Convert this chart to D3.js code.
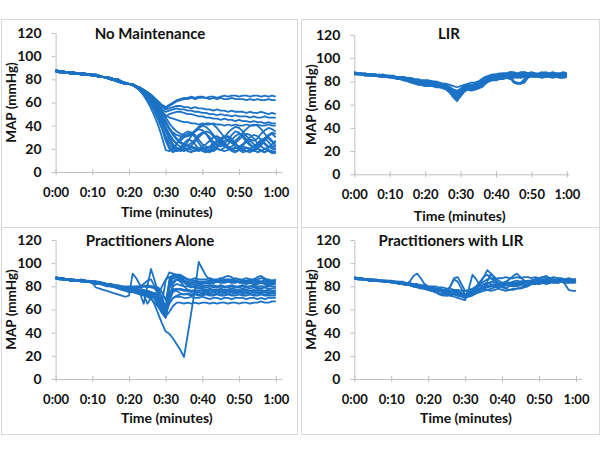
<!DOCTYPE html>
<html><head><meta charset="utf-8">
<script src="https://cdn.jsdelivr.net/npm/d3@7"></script>
<style>body{margin:0;background:#fff}</style>
</head><body>
<script>
// ---------- DATA ----------
const minutes = [0,1,2,3,4,5,6,7,8,9,10,11,12,13,14,15,16,17,18,19,20,21,22,23,24,25,26,27,28,29,30,
  31,32,33,34,35,36,37,38,39,40,41,42,43,44,45,46,47,48,49,50,51,52,53,54,55,56,57,58,59,60];
const yTicks = [0,20,40,60,80,100,120];
const xTicks = [0,10,20,30,40,50,60];
const xTickLabels = ["0:00","0:10","0:20","0:30","0:40","0:50","1:00"];
const panelTitles = ["No Maintenance","LIR","Practitioners Alone","Practitioners with LIR"];
const yTitle = "MAP (mmHg)";
const xTitle = "Time (minutes)";

const noMaintenance = [
 [87,87,86,86,86,85,85,85,85,84,84,83,83,82,82,81,80,79,78,77,76, 75,74,73,71,69,67,64,61,58,56, 58,60,62,63,64,64,65,64,65,65, 64,65,65,64,65,66,65,66,66,65, 66,66,65,66,66,65,66,65,66,65],
 [88,87,87,86,86,86,85,85,85,84,84,84,83,82,82,81,80,80,78,77,76, 75,74,72,71,69,66,63,60,57,55, 57,59,61,62,63,63,64,63,64,64, 64,63,64,63,64,63,63,64,63,63, 63,62,63,62,63,62,62,63,62,62],
 [87,86,86,86,85,85,85,84,84,84,83,83,82,82,81,80,79,78,77,76,76, 75,74,72,70,68,65,62,59,56,54, 55,56,57,57,56,56,55,56,55,55, 54,54,53,54,53,53,52,53,52,52, 52,51,52,51,51,52,51,50,51,50],
 [87,87,86,86,86,85,85,85,85,84,84,83,83,82,82,81,80,79,78,77,76, 75,73,72,70,67,64,61,57,54,52, 53,54,55,54,54,53,53,52,52,51, 51,50,50,49,50,49,49,48,49,48, 48,48,47,48,47,47,48,47,47,47],
 [88,87,87,86,86,86,85,85,85,84,84,84,83,82,82,81,80,80,78,77,76, 75,73,71,69,66,63,59,55,51,48, 50,51,52,52,51,50,50,49,48,48, 47,47,46,46,45,46,45,45,44,45, 44,44,43,44,43,43,42,43,42,42],
 [87,86,86,86,85,85,85,84,84,84,83,83,82,82,81,80,79,78,77,76,76, 75,74,72,70,67,64,60,56,52,49, 47,46,45,44,43,43,42,42,41,42, 41,41,42,41,41,40,41,40,41,40, 40,41,40,40,41,40,40,41,40,40],
 [87,87,86,86,86,85,85,85,85,84,84,83,83,82,82,81,80,79,78,77,76, 75,73,70,66,61,55,48,40,30,19, 18,20,24,29,33,35,34,30,25,21, 19,18,20,23,27,30,31,29,25,21, 19,18,17,19,22,26,29,30,27,22],
 [88,87,87,86,86,86,85,85,85,84,84,84,83,82,82,81,80,80,78,77,76, 75,73,71,68,64,59,53,46,38,29, 22,19,18,19,18,20,19,18,20,19, 21,19,18,20,19,18,19,20,18,19, 20,18,19,18,20,19,17,19,18,17],
 [87,86,86,86,85,85,85,84,84,84,83,83,82,82,81,80,79,78,77,76,76, 75,74,72,69,65,61,56,50,43,36, 29,24,21,20,22,26,31,35,37,36, 33,28,23,20,19,21,24,28,31,33, 32,28,24,21,20,23,27,31,33,30],
 [87,87,86,86,86,85,85,85,85,84,84,83,83,82,82,81,80,79,78,77,76, 76,74,72,70,67,63,58,52,46,39, 33,28,24,22,21,20,22,21,20,22, 24,27,30,31,29,25,22,20,21,20, 22,21,20,22,25,28,29,26,22,20],
 [88,87,87,86,86,86,85,85,85,84,84,84,83,82,82,81,80,80,78,77,76, 75,73,71,69,66,62,57,51,44,37, 31,27,25,27,30,33,34,32,28,24, 22,21,23,26,29,31,30,27,24,22, 24,27,30,32,31,28,24,21,22,23],
 [87,86,86,86,85,85,85,84,84,84,83,83,82,82,81,80,79,78,77,76,76, 76,74,73,71,68,65,61,56,50,44, 38,33,29,26,24,23,25,28,32,34, 33,30,26,23,22,24,28,32,35,34, 30,26,23,21,22,25,29,32,34,33],
 [87,87,86,86,86,85,85,85,85,84,84,83,83,82,82,81,80,79,78,77,76, 75,74,72,70,68,65,62,58,53,47, 42,38,35,33,32,31,32,35,38,40, 39,36,32,29,28,30,34,37,39,38, 35,31,28,27,29,33,36,38,37,35],
 [88,87,87,86,86,86,85,85,85,84,84,84,83,82,82,81,80,80,78,77,76, 76,74,72,69,65,60,54,47,39,31, 25,21,19,21,25,28,27,24,20,18, 17,19,22,26,27,25,21,18,17,19, 23,26,27,24,20,18,17,19,16,18],
 [87,86,86,86,85,85,85,84,84,84,83,83,82,82,81,80,79,78,77,76,76, 76,74,72,70,67,63,59,54,48,42, 37,34,32,31,30,31,33,36,39,41, 42,42,41,38,34,30,27,25,27,30, 34,37,40,41,40,37,33,29,26,25],
 [87,87,86,86,86,85,85,85,85,84,84,83,83,82,82,81,80,79,78,77,76, 75,73,71,68,65,61,56,50,43,35, 28,23,20,19,20,19,21,20,19,21, 20,22,25,27,26,23,20,19,21,20, 19,21,20,22,24,26,25,22,20,19],
 [88,87,87,86,86,86,85,85,85,84,84,84,83,82,82,81,80,80,78,77,76, 76,74,72,70,67,64,60,55,49,43, 37,32,28,25,23,22,23,26,30,33, 35,34,31,27,24,22,21,22,25,28, 31,33,32,29,25,22,20,21,24,27],
 [87,86,86,86,85,85,85,84,84,84,83,83,82,82,81,80,79,78,77,76,76, 75,73,70,67,63,58,52,45,37,27, 20,17,19,18,20,18,17,19,18,20, 18,17,19,21,24,27,28,26,22,19, 17,18,20,19,17,18,20,18,17,16]
];

const lir = [
 [87,87,86,87,86,86,85,86,85,85,85,84,84,84,83,83,82,81,80,80,79, 79,78,78,77,76,74,72,68,64,67, 71,73,74,75,76,78,81,83,84,84, 85,85,86,86,87,86,86,87,86,87, 86,86,87,86,86,87,86,86,87,86],
 [88,87,87,86,86,85,86,85,85,84,84,84,83,83,82,81,81,80,79,78,78, 78,77,77,76,75,73,70,66,63,68, 72,74,75,74,76,79,82,84,85,85, 86,86,85,87,86,85,84,85,86,86, 85,86,85,86,85,86,85,85,86,85],
 [87,86,86,86,85,86,85,85,84,85,84,83,83,82,82,81,80,79,78,77,77, 76,76,75,75,74,73,71,69,67,70, 73,74,73,74,75,77,80,82,83,83, 84,84,85,84,80,79,78,79,83,85, 84,85,84,85,84,85,84,85,84,84],
 [87,87,87,86,86,86,86,85,85,85,84,84,84,83,83,82,82,81,81,80,80, 80,79,79,78,77,76,75,72,70,73, 75,76,76,77,78,80,83,84,85,86, 86,87,87,88,87,86,87,88,87,87, 87,86,87,88,87,86,87,87,86,87],
 [86,86,86,85,85,85,85,84,84,84,83,83,82,82,81,81,80,79,78,77,76, 76,76,76,75,75,74,73,72,71,72, 73,73,72,73,74,75,78,80,81,81, 82,82,83,82,83,84,83,84,84,85, 85,84,85,84,85,85,84,85,84,85],
 [87,87,86,86,86,85,85,85,85,84,84,84,83,83,82,82,81,80,80,79,79, 78,78,77,77,76,75,73,70,66,69, 73,75,76,77,78,80,82,83,82,82, 83,84,84,83,79,78,79,82,84,85, 85,86,85,86,86,85,86,85,86,85],
 [88,87,87,87,86,86,86,85,86,85,85,85,84,84,84,83,83,82,82,81,81, 81,80,80,79,78,78,77,76,75,76, 77,78,79,79,80,82,84,85,86,86, 87,87,87,88,88,87,88,88,87,88, 87,87,88,87,87,88,87,87,88,87],
 [87,86,86,86,85,85,85,85,84,84,84,83,83,82,81,80,79,78,77,77,76, 77,77,76,76,75,74,72,70,69,71, 72,73,73,73,74,76,79,81,82,83, 83,83,84,84,84,83,84,85,85,84, 84,84,83,84,84,83,84,83,83,84],
 [87,87,86,86,86,86,85,85,85,84,84,84,83,83,82,82,81,81,80,80,79, 79,79,78,78,77,76,74,71,69,72, 74,75,75,76,77,79,82,83,84,85, 85,86,86,85,86,86,85,86,87,86, 86,86,85,86,86,87,86,86,85,86],
 [87,86,87,86,86,85,85,85,84,85,84,84,83,83,82,81,81,80,79,79,78, 78,78,77,76,76,75,74,73,72,73, 74,75,75,75,76,78,80,82,83,83, 84,84,84,85,85,84,85,85,86,85, 85,85,86,85,85,86,85,85,84,85],
 [86,86,86,85,85,85,85,85,84,84,84,83,83,82,82,82,81,80,80,79,79, 80,80,79,79,78,77,75,73,71,74, 76,77,77,78,79,81,83,84,85,85, 85,86,86,85,80,78,78,80,84,86, 86,86,85,86,86,86,85,86,86,85]
];

const practitionersAlone = [
 [87,87,86,86,85,85,85,85,84,84,83, 79,78,77,76,75,74,73,72,71,72, 91,87,81,73,65,70,74,68,60,56, 68,75,77,78,77,77,76,77,76,77, 76,77,76,76,77,76,77,76,76,77, 76,77,76,76,77,76,76,77,76,76],
 [88,87,87,86,86,85,85,86,85,84,84, 84,83,82,82,81,80,80,79,78,77, 76,75,74,65,80,95,85,74,61,55, 72,80,82,81,80,80,79,80,79,80, 79,80,80,79,80,79,80,80,79,80, 80,79,80,80,79,80,79,80,80,79],
 [87,87,86,86,86,85,85,85,84,84,84, 83,83,82,81,81,80,79,78,77,76, 76,75,74,73,72,71,70,68,66,85, 92,91,90,90,88,86,85,85,84,84, 84,85,84,84,85,84,84,85,84,84, 85,84,84,85,84,84,85,84,85,84],
 [87,87,86,86,85,85,85,84,84,84,83, 83,82,82,81,80,80,79,78,77,76, 76,75,75,74,73,70,64,56,48,41, 39,35,30,25,19,38,58,78,101,95, 89,86,85,85,84,85,86,85,85,86, 85,85,86,85,85,84,85,85,84,85],
 [87,86,86,86,85,85,85,85,84,84,84, 83,83,82,82,81,80,80,79,78,77, 77,76,76,75,74,72,69,64,58,54, 58,63,66,66,65,66,65,66,65,66, 66,65,66,65,66,66,65,66,66,65, 66,66,65,66,66,67,66,66,67,67],
 [88,87,86,86,86,85,85,85,85,84,84, 83,83,82,81,81,80,79,78,78,77, 76,76,75,74,73,72,70,66,60,55, 66,70,71,71,70,70,71,70,70,71, 70,69,70,70,69,70,70,69,70,70, 70,69,70,70,69,70,69,70,70,70],
 [87,87,86,86,86,85,85,85,84,84,84, 84,83,82,82,81,80,80,79,78,77, 77,76,75,75,74,73,71,67,61,54, 74,78,76,74,73,73,72,73,72,72, 73,72,72,73,72,72,73,72,72,73, 72,72,73,72,72,73,72,72,72,72],
 [87,87,87,86,86,85,85,85,85,84,84, 83,83,82,82,81,81,80,79,78,78, 77,77,76,75,74,72,69,64,57,53, 70,82,86,84,80,77,76,75,75,74, 75,74,75,74,75,75,74,75,74,75, 74,75,74,75,74,74,75,74,74,74],
 [87,86,86,86,85,85,85,84,84,84,83, 83,82,82,81,80,80,79,78,78,77, 77,76,76,75,74,73,71,68,63,57, 80,88,89,88,85,82,80,79,78,78, 77,78,77,77,78,77,77,78,77,76, 77,77,76,77,76,77,76,77,76,76],
 [87,87,86,86,86,86,85,85,85,84,84, 84,83,83,82,81,81,80,79,78,78, 78,77,77,76,76,75,74,72,68,60, 78,84,86,85,83,81,80,80,79,79, 79,80,79,79,80,79,79,78,79,79, 78,79,78,79,78,78,79,78,78,78],
 [88,87,87,86,86,85,85,85,85,84,84, 84,83,83,82,82,81,80,80,79,79, 79,80,80,80,80,79,79,78,70,62, 86,90,89,87,85,83,82,81,81,80, 81,80,81,80,81,80,80,81,80,80, 81,80,80,81,80,80,80,81,80,80],
 [87,87,86,86,86,85,85,85,85,84,84, 83,83,82,82,81,81,80,79,79,78, 78,78,79,80,81,80,78,74,66,58, 82,89,88,86,85,84,83,83,82,82, 83,82,83,84,86,88,89,88,85,83, 83,82,83,82,82,83,82,82,82,82],
 [87,86,86,86,85,85,85,85,84,84,84, 83,83,82,81,81,80,80,79,78,78, 77,77,76,76,75,74,73,70,64,56, 84,90,90,89,87,86,85,85,84,84, 84,85,84,85,84,85,85,84,85,84, 85,84,85,86,88,89,87,85,84,84],
 [88,87,87,86,86,86,85,85,85,85,84, 84,84,83,82,82,81,80,80,79,79, 78,78,77,77,76,75,74,73,80,86, 88,89,88,87,87,86,86,87,86,86, 86,87,86,86,87,86,86,86,87,86, 86,87,86,86,86,87,86,86,85,86],
 [87,87,86,86,86,85,85,85,85,84,84, 84,83,83,82,82,81,81,80,80,80, 80,80,79,80,79,80,80,79,75,68, 82,87,86,85,84,84,83,84,83,83, 84,83,83,84,83,83,84,83,83,84, 83,83,84,83,83,84,83,83,83,83],
 [87,86,86,86,85,85,85,84,84,84,83, 82,82,81,80,80,79,78,77,76,75, 75,74,73,72,71,69,66,62,57,53, 72,77,78,77,76,76,75,76,75,75, 76,75,75,76,75,75,76,75,75,76, 75,75,76,75,75,75,76,75,75,75],
 [87,87,86,86,86,85,85,85,84,84,84, 84,83,82,82,81,80,80,79,78,78, 78,79,80,82,85,86,80,72,64,57, 65,70,72,73,73,74,73,74,73,73, 74,73,73,74,73,74,73,73,74,73, 73,74,73,73,74,73,73,73,74,73]
];

const practitionersWithLir = [
 [87,87,86,86,86,85,85,85,85,84,84, 84,83,83,82,84,89,91,87,82,80, 79,78,77,76,75,76,77,76,74,72, 74,76,78,80,82,83,82,81,82,83, 84,83,84,85,84,85,84,85,86,85, 84,85,86,85,84,85,84,85,84,85],
 [87,86,86,86,85,85,85,85,84,84,84, 83,83,82,82,81,81,80,79,79,78, 78,77,77,76,76,80,87,88,82,76, 75,76,77,78,79,80,80,81,80,81, 82,82,83,82,83,84,83,84,84,85, 85,84,85,84,85,84,85,85,84,85],
 [87,87,86,86,85,85,85,85,84,84,84, 83,83,82,81,81,80,79,78,78,77, 76,75,74,73,72,72,71,70,69,68, 78,90,86,81,79,80,81,80,81,82, 81,82,82,83,82,83,83,84,83,84, 84,83,84,84,83,84,83,84,84,83],
 [87,87,86,86,86,85,85,85,85,84,84, 84,83,83,82,82,81,80,80,79,79, 78,78,77,76,75,74,74,73,72,71, 72,74,77,82,88,94,91,86,83,82, 82,83,82,83,84,83,84,85,84,85, 85,86,85,85,86,85,85,86,85,85],
 [88,87,87,86,86,86,85,85,85,85,84, 84,84,83,83,82,82,81,80,80,79, 79,78,78,77,76,75,76,75,74,73, 73,74,76,78,80,84,91,88,85,83, 82,81,80,81,82,81,82,82,83,82, 83,84,83,84,83,84,84,83,84,84],
 [87,86,86,86,85,85,85,84,84,84,83, 83,82,82,81,81,80,80,79,78,78, 77,76,76,75,74,74,73,72,72,71, 72,73,74,75,76,77,78,79,80,82, 84,86,89,91,88,85,84,83,83,84, 83,84,84,83,84,84,83,84,83,84],
 [87,87,86,86,86,85,85,85,85,84,84, 84,83,83,82,82,81,81,80,80,79, 79,78,78,77,77,76,75,74,73,73, 74,75,76,77,78,79,80,80,81,81, 82,82,83,83,84,84,85,85,86,86, 86,85,86,85,85,86,82,77,76,76],
 [87,87,87,86,86,86,85,85,85,84,84, 83,83,82,82,81,80,80,79,78,78, 77,77,76,75,73,72,73,75,74,72, 73,74,76,77,79,80,81,80,79,80, 81,82,81,82,83,84,84,85,86,87, 88,89,87,86,85,86,85,86,85,86],
 [87,86,86,86,85,85,85,85,84,84,84, 83,83,82,82,81,80,80,79,78,77, 76,75,74,73,75,80,86,84,78,73, 75,77,80,84,88,90,87,84,82,80, 79,80,81,80,81,82,81,82,83,82, 83,82,83,84,83,84,83,84,83,84],
 [87,87,86,86,86,85,85,85,84,84,84, 83,83,82,82,81,80,80,79,78,77, 76,75,73,72,72,73,74,73,72,70, 72,74,76,77,78,77,76,77,78,77, 76,77,78,78,79,80,81,82,82,83, 83,84,84,83,84,84,84,83,84,84],
 [88,87,87,86,86,86,86,85,85,85,85, 84,84,84,83,83,82,82,81,81,80, 80,80,79,79,78,78,77,77,76,76, 77,78,80,82,84,86,87,86,87,87, 88,87,87,88,87,88,88,87,88,87, 88,87,87,88,87,87,86,87,86,86],
 [87,86,86,86,85,85,85,85,84,84,84, 83,83,82,82,81,81,80,79,79,78, 78,77,77,76,75,74,73,72,71,70, 71,72,74,76,79,82,84,83,81,79, 78,77,77,78,78,79,80,82,84,85, 86,86,85,86,86,85,86,85,86,86]
];

const panelData = [noMaintenance, lir, practitionersAlone, practitionersWithLir];

// ---------- LAYOUT ----------
const layout = [
  {x0:55.6, x1:282, xMax:61.7, yTop:33, yBot:172, titleX:150, titleY:34, yLabX:11, xLabY:212, box:[1,19,296,208]},
  {x0:354.3, x1:569, xMax:60.6, yTop:35, yBot:174.3, titleX:449, titleY:34, yLabX:311, xLabY:216, box:[301,19,298,208]},
  {x0:55.6, x1:282, xMax:61.7, yTop:240, yBot:379, titleX:150, titleY:241, yLabX:11, xLabY:418, box:[1,227,296,207]},
  {x0:354.3, x1:581.5, xMax:61.5, yTop:240, yBot:379, titleX:451, titleY:241, yLabX:311, xLabY:418, box:[301,227,298,207]}
];
const lineColor = "#1c72c4";
const axisColor = "#bfbfbf";
const font = "Lato, 'Open Sans', sans-serif";

const svg = d3.select("body").append("svg")
  .attr("width",600).attr("height",450)
  .style("background","#fff");

layout.forEach((L, p) => {
  const g = svg.append("g");
  g.append("rect").attr("x",L.box[0]+0.5).attr("y",L.box[1]+0.5)
    .attr("width",L.box[2]).attr("height",L.box[3])
    .attr("fill","none").attr("stroke","#d9d9d9");

  const x = d3.scaleLinear().domain([0,L.xMax]).range([L.x0,L.x1]);
  const y = d3.scaleLinear().domain([0,120]).range([L.yBot,L.yTop]);

  // y axis
  const ya = g.append("g").attr("transform",`translate(${L.x0},0)`)
    .call(d3.axisLeft(y).tickValues(yTicks).tickSizeInner(4).tickSizeOuter(0).tickPadding(10));
  ya.select(".domain").attr("stroke",axisColor);
  ya.selectAll(".tick line").attr("stroke",axisColor);
  ya.selectAll(".tick text").attr("font-family",font).attr("font-weight","bold")
    .attr("font-size",14).attr("fill","#111");

  // x axis
  const xa = g.append("g").attr("transform",`translate(0,${L.yBot})`)
    .call(d3.axisBottom(x).tickValues(xTicks).tickFormat((d,i)=>xTickLabels[i])
      .tickSizeInner(3).tickSizeOuter(0));
  xa.select(".domain").attr("stroke",axisColor);
  xa.selectAll(".tick line").attr("stroke",axisColor).attr("y1",-3).attr("y2",3);
  xa.selectAll(".tick text").attr("font-family",font).attr("font-weight","bold")
    .attr("font-size",13).attr("fill","#111").attr("y",20).attr("dy","0.35em");

  // lines
  const line = d3.line().x((d,i)=>x(minutes[i])).y(d=>y(d));
  g.append("g").selectAll("path").data(panelData[p]).join("path")
    .attr("d",line).attr("fill","none").attr("stroke",lineColor)
    .attr("stroke-width",1.8).attr("stroke-linejoin","round");

  // title
  g.append("text").attr("x",L.titleX).attr("y",L.titleY).attr("dy","0.35em")
    .attr("text-anchor","middle").attr("font-family",font).attr("font-weight","bold")
    .attr("font-size",15).attr("fill","#111").text(panelTitles[p]);
  // axis titles
  g.append("text").attr("transform",`translate(${L.yLabX},${(L.yTop+L.yBot)/2}) rotate(-90)`)
    .attr("dy","0.35em").attr("text-anchor","middle").attr("font-family",font)
    .attr("font-weight","bold").attr("font-size",13.5).attr("fill","#111").text(yTitle);
  g.append("text").attr("x",(L.x0+L.x1)/2 - 2).attr("y",L.xLabY).attr("dy","0.35em")
    .attr("text-anchor","middle").attr("font-family",font).attr("font-weight","bold")
    .attr("font-size",14).attr("fill","#111").text(xTitle);
});
</script>
</body></html>
